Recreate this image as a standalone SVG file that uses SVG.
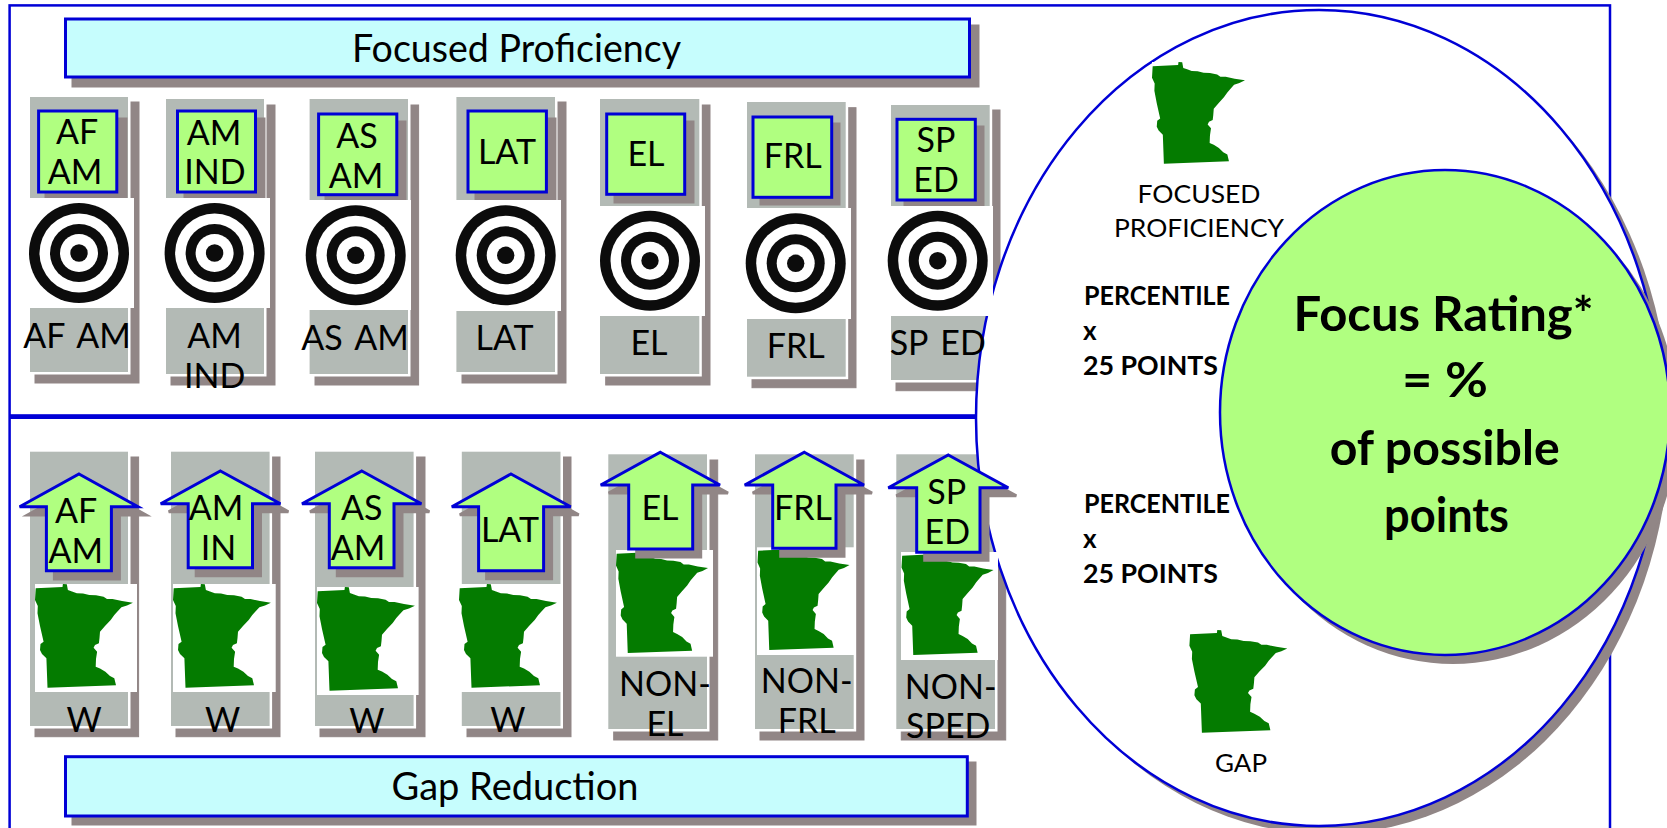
<svg xmlns="http://www.w3.org/2000/svg" xmlns:xlink="http://www.w3.org/1999/xlink" width="1667" height="828" viewBox="0 0 1667 828">
<style>
text{font-family:"Lato","Noto Sans","Liberation Sans",sans-serif;fill:#000;text-anchor:middle}
.t{font-size:34px;word-spacing:4px}
.b{font-size:38px}
.s{font-size:25px}
.p{font-size:26px;font-weight:700;text-anchor:start}
.f{font-size:48px;font-weight:700}
.sh{fill:#918686;stroke:#918686}
.g{fill:#b3bab5;stroke:#fff;stroke-width:5;paint-order:stroke}
.box{fill:#b0ff80;stroke:#0000d6;stroke-width:3}
.bsh{fill:#918686;stroke:#918686;stroke-width:3}
.ban{fill:#c6fdfd;stroke:#0000d6;stroke-width:3}
.w{fill:#fff}
.ln{fill:none;stroke:#0000d6}
</style>
<defs>
<g id="target">
<circle r="50" fill="#0c0c0c"/><circle r="39.5" fill="#fff"/><circle r="29" fill="#0c0c0c"/><circle r="19" fill="#fff"/><circle r="8.7" fill="#0c0c0c"/>
</g>
<path id="mn" fill="#047b00" d="M0.7 4.3L27.5 3L27.9 0L31.8 .3L32.9 6L37 7.5L41.8 9.3L48 9.5L54.3 11L61 11.3L68.6 12.7L72 15L77.5 15L87 17L97.9 18.7L92 21.5L86.4 23.3L82 28L79.3 31L75.7 36L70 42L65 47.7L64.5 54L63.9 59.3L60 61L58.6 63.7L62.1 67.7L61 75L60.7 82.7L65 84.5L70.4 87.7L75 92L79.3 94.3L81 101.3L12.5 103.7L11.4 74.3L7 70L5 66L5.5 60L8.6 57.7L5 42L2.5 29.3L2.8 22L0 16Z"/>
</defs>

<g id="frame">
<rect class="ln" x="9.6" y="5.4" width="1600.4" height="840" stroke-width="2.5"/>
<rect x="9" y="414.2" width="1000" height="4.8" fill="#0000d6"/>
</g>

<g id="banner-focused-proficiency">
<rect class="bsh" x="73" y="26" width="905" height="60"/>
<rect class="ban" x="65.5" y="19" width="904" height="58"/>
<text class="b" x="516.5" y="62" textLength="329" lengthAdjust="spacingAndGlyphs">Focused Proficiency</text>
</g>

<g id="prof-af-am">
<rect class="sh" x="35" y="102" width="104" height="281"/>
<rect class="g" x="30" y="97" width="98" height="275"/>
<rect class="bsh" x="46" y="119" width="80" height="80"/>
<rect class="box" x="38.6" y="111" width="78.2" height="81"/>
<text class="t" x="77" y="144">AF</text><text class="t" x="75" y="184">AM</text>
<rect class="w" x="29" y="198" width="105" height="110"/>
<use href="#target" x="79" y="253"/>
<text class="t" x="77" y="348">AF AM</text>
</g>

<g id="prof-am-ind">
<rect class="sh" x="171" y="105" width="104" height="280"/>
<rect class="g" x="166" y="99" width="98" height="275"/>
<rect class="bsh" x="185" y="119" width="79" height="80"/>
<rect class="box" x="177.5" y="111" width="78" height="81"/>
<text class="t" x="214" y="145">AM</text><text class="t" x="215" y="184">IND</text>
<rect class="w" x="166" y="198" width="104" height="110"/>
<use href="#target" x="214.6" y="253"/>
<text class="t" x="214.6" y="348">AM</text><text class="t" x="214.6" y="388">IND</text>
</g>

<g id="prof-as-am">
<rect class="sh" x="315" y="105" width="103.6" height="280"/>
<rect class="g" x="309.6" y="99" width="98.4" height="275"/>
<rect class="bsh" x="326" y="122" width="79" height="80"/>
<rect class="box" x="318.6" y="114" width="78.2" height="80.7"/>
<text class="t" x="357" y="147.7">AS</text><text class="t" x="356" y="187.7">AM</text>
<rect class="w" x="307" y="200" width="104" height="110"/>
<use href="#target" x="355.7" y="255.3"/>
<text class="t" x="355" y="350">AS AM</text>
</g>

<g id="prof-lat">
<rect class="sh" x="462" y="102" width="104" height="281"/>
<rect class="g" x="456.4" y="97" width="98.6" height="275"/>
<rect class="bsh" x="476" y="119" width="79" height="80"/>
<rect class="box" x="468" y="111" width="78.4" height="81"/>
<text class="t" x="507" y="164">LAT</text>
<rect class="w" x="455" y="200" width="106" height="111"/>
<use href="#target" x="505.7" y="255.3"/>
<text class="t" x="504.6" y="350">LAT</text>
</g>

<g id="prof-el">
<rect class="sh" x="605.7" y="105" width="104.3" height="280"/>
<rect class="g" x="600" y="99" width="99.3" height="275"/>
<rect class="bsh" x="615" y="122" width="78" height="80"/>
<rect class="box" x="606.7" y="114" width="78" height="80.3"/>
<text class="t" x="646" y="165.7">EL</text>
<rect class="w" x="600" y="206" width="105" height="110"/>
<use href="#target" x="650" y="260.7"/>
<text class="t" x="649" y="355">EL</text>
</g>

<g id="prof-frl">
<rect class="sh" x="752" y="107.7" width="104" height="280"/>
<rect class="g" x="747" y="102" width="98.7" height="274.7"/>
<rect class="bsh" x="761" y="124" width="78" height="80"/>
<rect class="box" x="753" y="117" width="78.7" height="80.3"/>
<text class="t" x="792.7" y="168.3">FRL</text>
<rect class="w" x="744" y="208" width="107" height="111"/>
<use href="#target" x="795.7" y="263.3"/>
<text class="t" x="795.7" y="357.7">FRL</text>
</g>

<g id="prof-sp-ed-back">
<rect class="sh" x="896" y="110" width="104" height="280.7"/>
<rect class="g" x="891" y="105" width="98.7" height="275"/>
<rect class="bsh" x="905" y="127" width="78" height="80"/>
</g>

<g id="gap-af-am">
<rect class="sh" x="35" y="457" width="103.6" height="279.7"/>
<rect class="g" x="30" y="451.7" width="98" height="274.3"/>
<rect class="w" x="35" y="584" width="102" height="108"/>
<use href="#mn" x="35" y="584"/>
<polygon class="bsh" points="87,482 146,515 119.4,515 119.4,579 54.4,579 54.4,515 27.6,515"/>
<polygon class="box" points="79,474 138,506.7 111.4,506.7 111.4,570.7 46.4,570.7 46.4,506.7 19.6,506.7"/>
<text class="t" x="76" y="523.3">AF</text><text class="t" x="75.7" y="563.3">AM</text>
<text class="t" x="84" y="731.7">W</text>
</g>

<g id="gap-am-in">
<rect class="sh" x="176" y="457" width="104" height="279.7"/>
<rect class="g" x="171" y="451.7" width="98.6" height="274.3"/>
<rect class="w" x="173" y="584" width="102.7" height="108"/>
<use href="#mn" x="173" y="584"/>
<polygon class="bsh" points="228.4,479 288.4,511.7 260.5,511.7 260.5,575.7 196.2,575.7 196.2,511.7 168.7,511.7"/>
<polygon class="box" points="220.4,471 280.4,503.7 252.5,503.7 252.5,567.7 188.2,567.7 188.2,503.7 160.7,503.7"/>
<text class="t" x="216" y="520">AM</text><text class="t" x="218.6" y="560">IN</text>
<text class="t" x="222.5" y="731.7">W</text>
</g>

<g id="gap-as-am">
<rect class="sh" x="320" y="457" width="105" height="279.7"/>
<rect class="g" x="315" y="451.7" width="98.6" height="274.3"/>
<rect class="w" x="317" y="587" width="101.6" height="108"/>
<use href="#mn" x="317" y="587"/>
<polygon class="bsh" points="369.8,479 429.4,511.7 402,511.7 402,575.7 337.3,575.7 337.3,511.7 310,511.7"/>
<polygon class="box" points="361.8,471 421.4,503.7 394,503.7 394,567.7 329.3,567.7 329.3,503.7 302,503.7"/>
<text class="t" x="361.8" y="520">AS</text><text class="t" x="358" y="560">AM</text>
<text class="t" x="366.8" y="733.3">W</text>
</g>

<g id="gap-lat">
<rect class="sh" x="467" y="457" width="104" height="279.7"/>
<rect class="g" x="461.8" y="451.7" width="98.7" height="274.3"/>
<rect class="w" x="459" y="584" width="102" height="108"/>
<use href="#mn" x="459" y="584"/>
<polygon class="bsh" points="519,482 578.7,514.7 551.6,514.7 551.6,578.7 486.6,578.7 486.6,514.7 459.8,514.7"/>
<polygon class="box" points="511,474 570.7,506.7 543.6,506.7 543.6,570.7 478.6,570.7 478.6,506.7 451.8,506.7"/>
<text class="t" x="510" y="541.7">LAT</text>
<text class="t" x="507.9" y="731.7">W</text>
</g>

<g id="gap-el">
<rect class="sh" x="613.7" y="460" width="104" height="280"/>
<rect class="g" x="608.3" y="454.3" width="98.7" height="274.7"/>
<rect class="w" x="616" y="550" width="97" height="106.7"/>
<use href="#mn" transform="translate(616 549.4) scale(.94 1)"/>
<polygon class="bsh" points="668.3,460.3 728,493 700.7,493 700.7,557 636.7,557 636.7,493 608.7,493"/>
<polygon class="box" points="660.3,452.3 720,485 692.7,485 692.7,549 628.7,549 628.7,485 600.7,485"/>
<text class="t" x="660" y="520">EL</text>
<text class="t" x="665" y="695.7">NON-</text><text class="t" x="665" y="735.7">EL</text>
</g>

<g id="gap-frl">
<rect class="sh" x="760" y="460" width="104" height="280"/>
<rect class="g" x="755" y="454.3" width="98.7" height="274.7"/>
<rect class="w" x="757" y="547.3" width="98" height="107.7"/>
<use href="#mn" transform="translate(757.5 546.4) scale(.94 1)"/>
<polygon class="bsh" points="812.3,460.3 872,493 844,493 844,556.3 780.7,556.3 780.7,493 752.7,493"/>
<polygon class="box" points="804.3,452.3 864,485 836,485 836,548.3 772.7,548.3 772.7,485 744.7,485"/>
<text class="t" x="803" y="520">FRL</text>
<text class="t" x="806.7" y="693.3">NON-</text><text class="t" x="806.7" y="733">FRL</text>
</g>

<g id="gap-sp-ed-back">
<rect class="sh" x="901.3" y="460" width="104.4" height="280"/>
<rect class="g" x="896.3" y="454.3" width="98.7" height="274.7"/>
</g>

<g id="banner-gap-reduction">
<rect class="bsh" x="73" y="763" width="902" height="61"/>
<rect class="ban" x="65.5" y="756.7" width="901.8" height="59.3"/>
<text class="b" x="515" y="800" textLength="247" lengthAdjust="spacingAndGlyphs">Gap Reduction</text>
</g>

<g id="focus-ellipse">
<ellipse cx="1327" cy="426" rx="343" ry="408" fill="#918686"/>
<ellipse cx="1319" cy="418" rx="343" ry="408" fill="#fff" stroke="#0000d6" stroke-width="2.5"/>
</g>

<g id="prof-sp-ed-front">
<rect class="box" x="897" y="119.3" width="78.3" height="80.7"/>
<text class="t" x="936" y="152.3">SP</text><text class="t" x="936" y="192.3">ED</text>
<rect class="w" x="888" y="206" width="105" height="110"/>
<use href="#target" x="937.7" y="260.7"/>
<text class="t" x="937.7" y="355">SP ED</text>
</g>

<g id="gap-sp-ed-front">
<rect class="w" x="901" y="552" width="97" height="108"/>
<use href="#mn" transform="translate(901.5 551.4) scale(.94 1)"/>
<polygon class="bsh" points="956.3,463 1016.3,495.7 988,495.7 988,560.3 924.7,560.3 924.7,495.7 896.3,495.7"/>
<polygon class="box" points="948.3,455 1008.3,487.7 980,487.7 980,552.3 916.7,552.3 916.7,487.7 888.3,487.7"/>
<text class="t" x="946.7" y="504.3">SP</text><text class="t" x="947.3" y="544.3">ED</text>
<text class="t" x="950.7" y="699">NON-</text><text class="t" x="948.3" y="738.3">SPED</text>
</g>

<g id="focused-proficiency-part">
<rect class="w" x="1152" y="62" width="94" height="104"/>
<use href="#mn" transform="translate(1152 62) scale(.95 .98)"/>
<text class="s" x="1199" y="203.3" textLength="123" lengthAdjust="spacingAndGlyphs">FOCUSED</text>
<text class="s" x="1199" y="237.3" textLength="170" lengthAdjust="spacingAndGlyphs">PROFICIENCY</text>
<text class="p" x="1084" y="305" textLength="146" lengthAdjust="spacingAndGlyphs">PERCENTILE</text>
<text class="p" x="1083" y="340">x</text>
<text class="p" x="1083" y="375" textLength="135" lengthAdjust="spacingAndGlyphs">25 POINTS</text>
</g>

<g id="gap-part">
<text class="p" x="1084" y="513.3" textLength="146" lengthAdjust="spacingAndGlyphs">PERCENTILE</text>
<text class="p" x="1083" y="548.3">x</text>
<text class="p" x="1083" y="582.7" textLength="135" lengthAdjust="spacingAndGlyphs">25 POINTS</text>
<use href="#mn" transform="translate(1189.4 630) scale(1 .99)"/>
<text class="s" x="1241" y="771.7" textLength="52" lengthAdjust="spacingAndGlyphs">GAP</text>
</g>

<g id="focus-rating">
<ellipse cx="1453" cy="421" rx="225" ry="243" fill="#918686"/>
<ellipse cx="1445" cy="412.5" rx="225" ry="242.5" fill="#b0ff80" stroke="#0000d6" stroke-width="2.5"/>
<text class="f" x="1443.6" y="331" textLength="300" lengthAdjust="spacingAndGlyphs">Focus Rating*</text>
<text class="f" x="1445" y="396.7" textLength="86" lengthAdjust="spacingAndGlyphs">= %</text>
<text class="f" x="1444.7" y="465" textLength="230" lengthAdjust="spacingAndGlyphs">of possible</text>
<text class="f" x="1446.5" y="531.7" textLength="125" lengthAdjust="spacingAndGlyphs">points</text>
</g>
</svg>
